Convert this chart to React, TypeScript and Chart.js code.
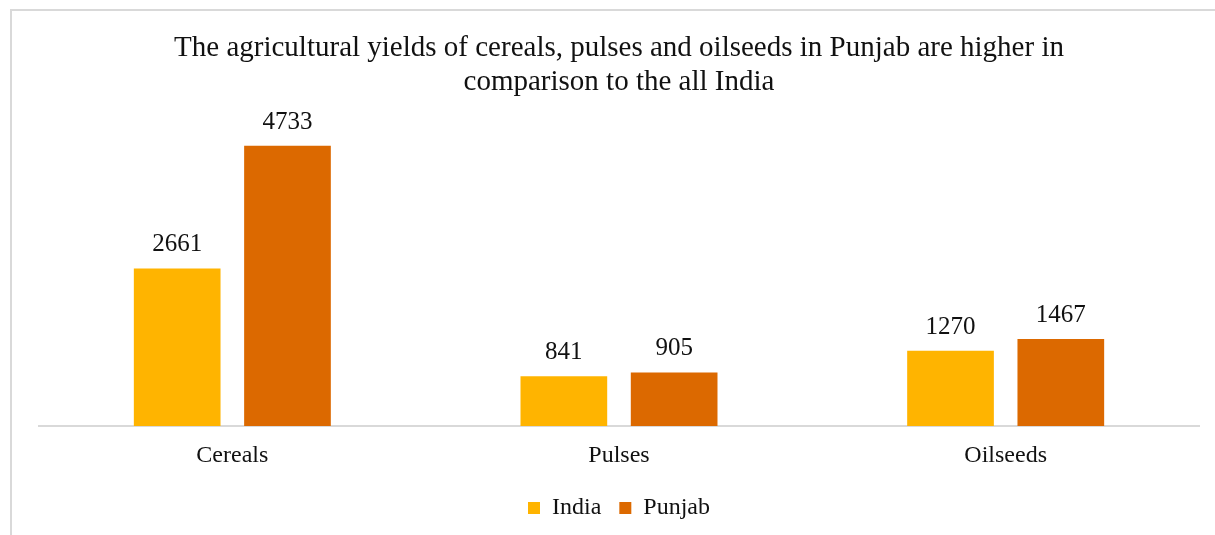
import React, { useEffect, useRef } from "react";
import { Chart, registerables } from "chart.js";

Chart.register(...registerables);

const categories = ["Cereals", "Pulses", "Oilseeds"];
const indiaValues = [2661, 841, 1270];
const punjabValues = [4733, 905, 1467];
const seriesNames = ["India", "Punjab"];
const titleLines = [
  "The agricultural yields of cereals, pulses and oilseeds in Punjab are higher in",
  "comparison to the all India",
];

const FONT = "'Liberation Serif', 'Times New Roman', Times, serif";

const framePlugin = {
  id: "frame",
  beforeDraw(chart: any) {
    const ctx = chart.ctx;
    ctx.save();
    ctx.fillStyle = "#ffffff";
    ctx.fillRect(0, 0, chart.width, chart.height);
    ctx.strokeStyle = "#d9d9d9";
    ctx.lineWidth = 2;
    ctx.beginPath();
    ctx.moveTo(11, chart.height + 5);
    ctx.lineTo(11, 10);
    ctx.lineTo(chart.width + 5, 10);
    ctx.stroke();
    ctx.restore();
  },
};

const valueLabelPlugin = {
  id: "valueLabels",
  afterDraw(chart: any) {
    const ctx = chart.ctx;
    ctx.save();
    ctx.font = `25px ${FONT}`;
    ctx.fillStyle = "#111111";
    ctx.textAlign = "center";
    ctx.textBaseline = "alphabetic";
    chart.data.datasets.forEach((ds: any, di: number) => {
      const meta = chart.getDatasetMeta(di);
      meta.data.forEach((el: any, i: number) => {
        ctx.fillText(String(ds.data[i]), el.x, el.y - 17);
      });
    });
    ctx.restore();
  },
};

export default function App() {
  const ref = useRef<HTMLCanvasElement>(null);
  useEffect(() => {
    if (!ref.current) return;
    const chart = new Chart(ref.current, {
      type: "bar",
      data: {
        labels: categories,
        datasets: [
          {
            label: seriesNames[0],
            data: indiaValues,
            backgroundColor: "#FFB400",
            categoryPercentage: 0.5705,
            barPercentage: 0.786,
          },
          {
            label: seriesNames[1],
            data: punjabValues,
            backgroundColor: "#DC6900",
            categoryPercentage: 0.5705,
            barPercentage: 0.786,
          },
        ],
      },
      options: {
        animation: false,
        responsive: false,
        devicePixelRatio: 1,
        layout: { padding: { left: 39, right: 16, top: 0, bottom: 5 } },
        plugins: {
          title: {
            display: true,
            text: titleLines,
            fullSize: false,
            color: "#111111",
            font: { family: FONT, size: 29, weight: "normal", lineHeight: 1.17 },
            padding: { top: 31, bottom: 31 },
          },
          legend: {
            display: true,
            position: "bottom",
            fullSize: false,
            labels: {
              boxWidth: 12,
              boxHeight: 12,
              padding: 18,
              color: "#111111",
              font: { family: FONT, size: 24 },
            },
          },
          tooltip: { enabled: false },
        },
        scales: {
          x: {
            grid: { display: false, drawTicks: false },
            border: { display: true, color: "#d9d9d9", width: 2 },
            ticks: {
              color: "#111111",
              font: { family: FONT, size: 24 },
              padding: 15,
            },
            afterFit: (scale: any) => {
              scale.height = 52;
            },
          },
          y: {
            display: false,
            min: 0,
            max: 5000,
          },
        },
      },
      plugins: [framePlugin, valueLabelPlugin],
    });
    return () => chart.destroy();
  }, []);
  return (
    <canvas
      ref={ref}
      width={1215}
      height={535}
      style={{ position: "fixed", left: 0, top: 0, width: 1215, height: 535 }}
    />
  );
}
